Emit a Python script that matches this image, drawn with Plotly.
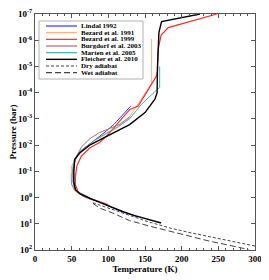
import numpy as np
import plotly.graph_objects as go

# ---------------- data (temperature K, log10 pressure bar) ----------------
names = ["Lindal 1992", "Bezard et al. 1991", "Bezard et al. 1999",
         "Burgdorf et al. 2003", "Marten et al. 2005", "Fletcher et al. 2010",
         "Dry adiabat", "Wet adiabat"]

lindal_T = [131, 120, 108, 97, 79, 61, 54, 52, 52, 54, 60, 75, 90, 105, 120, 140]
lindal_lp = [-3.5, -3.15, -2.8, -2.53, -2.14, -1.75, -1.4, -1.0, -0.6, -0.35, -0.18, 0.03, 0.2, 0.38, 0.54, 0.74]

bez91_T = [159, 159, 153, 140, 127, 112, 95, 80, 66, 56, 50, 49, 50, 54, 62, 72]
bez91_lp = [-6.05, -4.35, -4.1, -3.55, -3.0, -2.65, -2.4, -2.15, -1.85, -1.55, -1.2, -0.8, -0.5, -0.25, -0.12, 0.0]

bez99_T = [248, 181.7, 172, 168, 167, 165, 157, 141, 129, 111, 98, 88, 74.5, 63, 57, 55, 55, 59, 66, 75, 82]
bez99_lp = [-7.0, -6.48, -6.2, -5.65, -4.82, -4.6, -4.24, -3.5, -3.35, -2.78, -2.35, -2.1, -1.89, -1.57, -1.2, -0.8, -0.5, -0.2, -0.05, 0.05, 0.12]

burg_T = [130, 116, 106, 88, 75, 64, 57, 53, 52, 53, 56, 62, 72, 85, 100]
burg_lp = [-3.1, -2.8, -2.68, -2.48, -2.25, -1.95, -1.6, -1.2, -0.8, -0.5, -0.3, -0.15, 0.0, 0.12, 0.26]

marten_T = [170, 170, 160, 145, 129, 113, 97, 82, 68, 57, 52, 50, 50, 53, 60, 70, 78]
marten_lp = [-5.0, -4.2, -3.95, -3.55, -3.0, -2.7, -2.45, -2.2, -1.9, -1.6, -1.2, -0.8, -0.5, -0.35, -0.2, -0.05, 0.05]

fletcher_T = [225, 172.6, 169, 167, 166.5, 163.5, 150, 137, 129, 115, 102, 88, 74.5, 61, 54, 53, 53, 55, 61, 75, 90, 105, 120, 135, 150, 172]
fletcher_lp = [-7.0, -6.71, -6.3, -5.0, -4.0, -3.75, -3.24, -2.95, -2.78, -2.58, -2.4, -2.2, -2.0, -1.7, -1.45, -1.0, -0.6, -0.3, -0.15, 0.03, 0.2, 0.38, 0.54, 0.68, 0.8, 0.97]

dry_T = [79, 90, 105, 129, 155, 184, 210, 239, 270, 300]
dry_lp = [0.2, 0.3, 0.45, 0.68, 0.93, 1.16, 1.33, 1.5, 1.68, 1.85]

wet_T = [79, 88, 106, 129, 155, 184, 210, 239, 265, 291]
wet_lp = [0.22, 0.4, 0.59, 0.88, 1.08, 1.29, 1.46, 1.67, 1.82, 1.98]

x_ticks = [0, 50, 100, 150, 200, 250, 300]
y_exps = [-7, -6, -5, -4, -3, -2, -1, 0, 1, 2]
y_ticktext = ["10<sup>%d</sup>" % e for e in y_exps]

# ---------------- styles ----------------
colors = ["#3434ff", "#ffb077", "#ff2a2a", "#b86868", "#3fb0b0", "#000000", "#444444", "#444444"]
widths = [1.0, 1.0, 1.2, 1.0, 1.0, 1.4, 1.0, 1.0]
dashes = ["solid"] * 6 + ["3px,2px", "6px,3px"]

series = [(lindal_T, lindal_lp), (bez91_T, bez91_lp), (bez99_T, bez99_lp),
          (burg_T, burg_lp), (marten_T, marten_lp), (fletcher_T, fletcher_lp),
          (dry_T, dry_lp), (wet_T, wet_lp)]

FONT = "Liberation Serif"

fig = go.Figure()
for (T, lp), nm, c, w, d in zip(series, names, colors, widths, dashes):
    fig.add_trace(go.Scatter(x=T, y=np.power(10.0, lp), mode="lines", name=nm,
                             line=dict(color=c, width=w, dash=d), showlegend=False))

# page body has an 8px margin, so the figure is made 8px smaller each way
OFF = 8
W, H = 269 - OFF, 280 - OFF
ml, mr, mt, mb = 35 - OFF, 14, 14 - OFF, 30
pw, ph = W - ml - mr, H - mt - mb

def px2paper(px, py):
    return (px - OFF - ml) / pw, 1 - (py - OFF - mt) / ph

# manual legend (Plotly's legend rows cannot be made this compact)
shapes = []
annotations = []
x0, y0 = px2paper(39, 21)
x1, y1 = px2paper(143, 79)
shapes.append(dict(type="rect", xref="paper", yref="paper", x0=x0, y0=y0, x1=x1, y1=y1,
                   line=dict(color="#b0b0b0", width=1), fillcolor="white", layer="above"))
for i, (nm, c, w, d) in enumerate(zip(names, colors, widths, dashes)):
    py = 26 + i * 6.67
    lx0, ly = px2paper(46, py)
    lx1, _ = px2paper(77, py)
    shapes.append(dict(type="line", xref="paper", yref="paper", x0=lx0, x1=lx1, y0=ly, y1=ly,
                       line=dict(color=c, width=max(w, 1.2), dash=d), layer="above"))
    tx, _ = px2paper(79.5, py)
    annotations.append(dict(xref="paper", yref="paper", x=tx, y=ly, text=nm, showarrow=False,
                            xanchor="left", yanchor="middle", height=6, borderpad=0,
                            font=dict(family=FONT, size=7, color="black", weight="bold")))

fig.update_layout(
    width=W, height=H,
    margin=dict(l=ml, r=mr, t=mt, b=mb),
    paper_bgcolor="white", plot_bgcolor="white",
    font=dict(family=FONT, size=9, color="black", weight="bold"),
    shapes=shapes, annotations=annotations,
    showlegend=False,
)
fig.update_xaxes(
    range=[0, 300], tickvals=x_ticks, ticks="inside", ticklen=4, tickcolor="#555",
    showline=True, linecolor="#555", linewidth=1, mirror="ticks", showgrid=False, zeroline=False,
    minor=dict(dtick=10, ticks="inside", ticklen=2, tickcolor="#555", showgrid=False),
    tickfont=dict(family=FONT, size=9, weight="bold"), automargin=False, ticklabeloverflow="allow",
    title=dict(text="Temperature (K)", font=dict(family=FONT, size=9, weight="bold"), standoff=0),
)
fig.update_yaxes(
    type="log", range=[2, -7], tickvals=[10.0 ** e for e in y_exps], ticktext=y_ticktext,
    ticks="inside", ticklen=4, tickcolor="#555",
    showline=True, linecolor="#555", linewidth=1, mirror="ticks", showgrid=False, zeroline=False,
    tickfont=dict(family=FONT, size=9, weight="bold"), automargin=False, ticklabeloverflow="allow",
    title=dict(text="Pressure (bar)", font=dict(family=FONT, size=9, weight="bold"), standoff=0),
)

fig.write_html("out.html")
